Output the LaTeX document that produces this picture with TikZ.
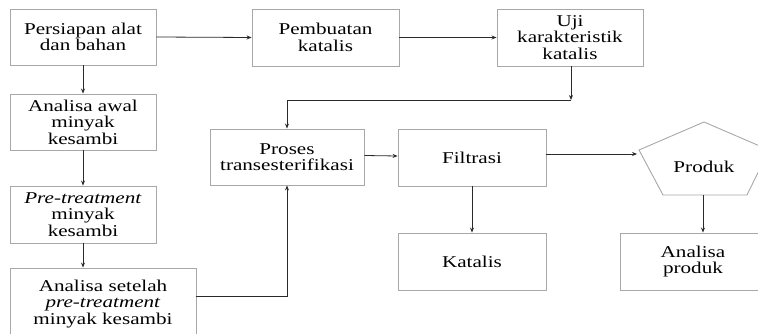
\documentclass[tikz,border=0pt]{standalone}
\usepackage{fontspec}
\setmainfont{Liberation Serif}[FakeStretch=1.28]
\usetikzlibrary{arrows.meta}
\definecolor{boxedge}{HTML}{A8A8A8}
\definecolor{arrowcol}{HTML}{2A2A2A}
\begin{document}
\begin{tikzpicture}[x=1pt,y=-1pt,
  box/.style={draw=boxedge,line width=0.9pt,align=center,inner sep=0pt,
    font=\fontsize{16.5}{16.5}\selectfont,text=black},
  conn/.style={draw=arrowcol,line width=0.8pt},
  arr/.style={conn,-{Stealth[length=5pt,width=4pt]}}]
\useasboundingbox (0,0) rectangle (758,334);
\node[box,minimum width=146pt,minimum height=56pt] (persiapan) at (83,37) {Persiapan alat\\dan bahan};
\node[box,minimum width=147pt,minimum height=57pt] (pembuatan) at (325.5,37.5) {Pembuatan\\katalis};
\node[box,minimum width=146pt,minimum height=57pt] (uji) at (570,37.5) {Uji\\karakteristik\\katalis};
\node[box,minimum width=146pt,minimum height=56pt] (awal) at (83,122) {Analisa awal\\minyak\\kesambi};
\node[box,minimum width=146pt,minimum height=57pt] (pre) at (83,214.5) {\textit{Pre-treatment}\\minyak\\kesambi};
\node[box,minimum width=186pt,minimum height=72pt] (setelah) at (103,304) {Analisa setelah\\\textit{pre-treatment}\\minyak kesambi};
\node[box,minimum width=154pt,minimum height=56pt] (proses) at (287,157) {Proses\\transesterifikasi};
\node[box,minimum width=148pt,minimum height=57pt] (filtrasi) at (472,157.5) {Filtrasi};
\node[box,minimum width=148pt,minimum height=57pt] (katalis) at (472,261.5) {Katalis};
\node[box,minimum width=146pt,minimum height=57pt] (aproduk) at (693,261.5) {Analisa\\produk};
% pentagon
\coordinate (pt) at (704,122);
\coordinate (pl) at (639,150);
\coordinate (pbl) at (663,195);
\coordinate (pbr) at (747,195);
\coordinate (pr) at (769,150);
\draw[boxedge,line width=0.9pt] (pt) -- (pl) -- (pbl) -- (pbr) -- (pr) -- cycle;
\node[box,draw=none] (produk) at (704,167) {Produk};
\coordinate (pin) at (637,154);
\coordinate (pout) at (703,195);
% connectors
\draw[arr] (persiapan.east) -- (pembuatan.west);
\draw[arr] (pembuatan.east) -- (uji.west);
\draw[arr] (persiapan.south) -- (awal.north);
\draw[arr] (awal.south) -- (pre.north);
\draw[arr] (pre.south) -- (pre.south |- setelah.north);
\coordinate (c1) at (571,100);
\draw[arr] (uji.south -| c1) -- (c1);
\draw[arr] (c1) -| (proses.north);
\coordinate (c2) at (196,296);
\draw[arr] (c2) -| (proses.south);
\draw[arr] ([yshift=1.5pt]proses.east) -- ([yshift=1.5pt]filtrasi.west);
\draw[arr] (filtrasi.east |- pin) -- (pin);
\draw[arr] (filtrasi.south) -- (katalis.north);
\draw[arr] (pout) -- (aproduk.north -| pout);
\end{tikzpicture}
\end{document}
